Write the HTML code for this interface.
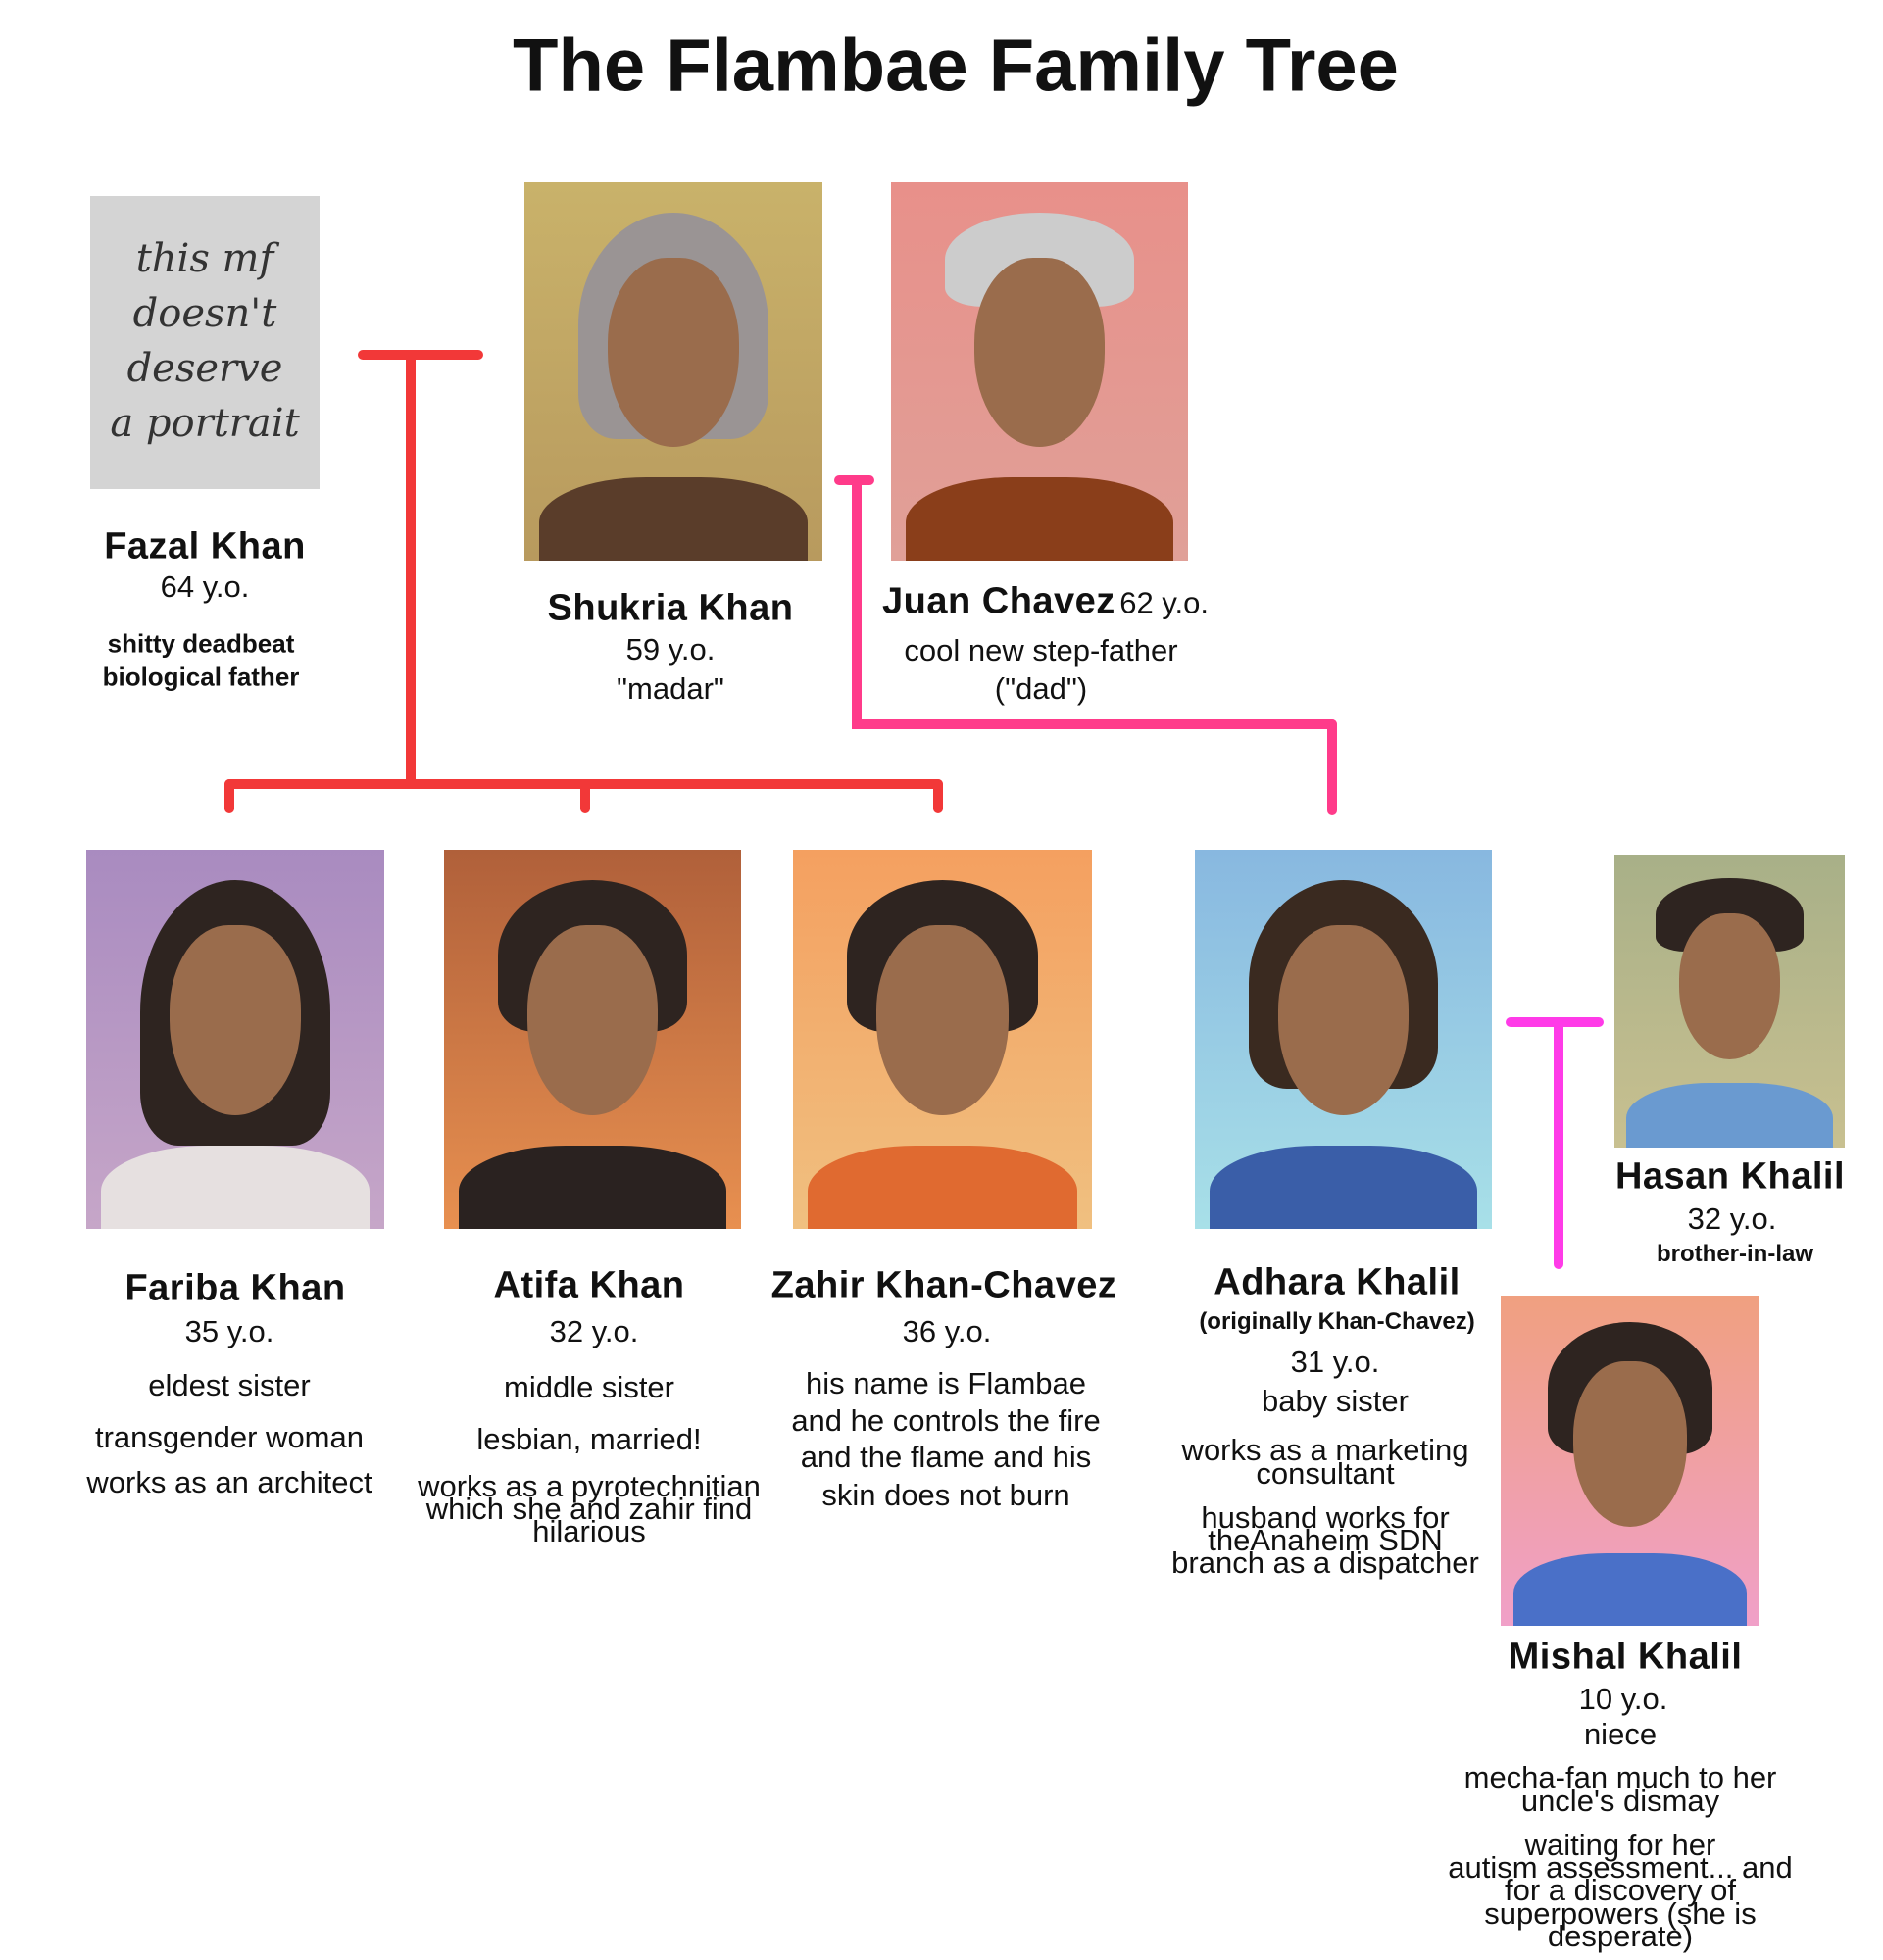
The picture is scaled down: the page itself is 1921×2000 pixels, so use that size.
<!DOCTYPE html>
<html><head><meta charset="utf-8">
<style>
html,body{margin:0;padding:0;background:#fff;}
body{width:1921px;height:2000px;position:relative;overflow:hidden;font-family:"Liberation Sans","DejaVu Sans",sans-serif;color:#111;}
.t{position:absolute;transform:translate(-50%,-50%);white-space:nowrap;text-align:center;}
.n{font-size:38px;font-weight:bold;letter-spacing:0.5px;}
.b{font-size:31px;}
.s{font-size:24px;font-weight:bold;}
.p{position:absolute;overflow:hidden;}
.face{position:absolute;left:28%;top:20%;width:44%;height:50%;border-radius:45% 45% 50% 50%;background:#9a6c4c;}
.hair{position:absolute;left:18%;top:8%;width:64%;height:40%;border-radius:50% 50% 20% 20%;background:#2e2420;}
.body{position:absolute;left:5%;top:78%;width:90%;height:30%;border-radius:40% 40% 0 0;}
.ln{position:absolute;}
</style></head><body>
<div class="t" style="left:975px;top:67px;font-size:76px;font-weight:bold;">The Flambae Family Tree</div>

<div class="p" style="left:92px;top:200px;width:234px;height:299px;background:#d4d4d4;">
<div style="position:absolute;left:0;top:36px;width:100%;text-align:center;font-family:'DejaVu Serif',serif;font-style:italic;font-size:40px;line-height:56px;color:#333;">this mf<br>doesn't<br>deserve<br>a portrait</div></div>

<div class="p" style="left:535px;top:186px;width:304px;height:386px;background:linear-gradient(#c9b26a,#b89a5e);"><div class="hair" style="background:#9a9494;height:60%"></div><div class="face"></div><div class="body" style="background:#5a3d2a"></div></div>
<div class="p" style="left:909px;top:186px;width:303px;height:386px;background:linear-gradient(#e8908a,#e0a098);"><div class="hair" style="background:#ccc;height:25%"></div><div class="face"></div><div class="body" style="background:#8a3e1a"></div></div>
<div class="p" style="left:88px;top:867px;width:304px;height:387px;background:linear-gradient(#a98bc0,#c6a6c8);"><div class="hair" style="height:70%"></div><div class="face"></div><div class="body" style="background:#e6e0e0"></div></div>
<div class="p" style="left:453px;top:867px;width:303px;height:387px;background:linear-gradient(#b0603a,#e89050);"><div class="hair"></div><div class="face"></div><div class="body" style="background:#2a2220"></div></div>
<div class="p" style="left:809px;top:867px;width:305px;height:387px;background:linear-gradient(#f4a060,#f0c080);"><div class="hair"></div><div class="face"></div><div class="body" style="background:#e06a30"></div></div>
<div class="p" style="left:1219px;top:867px;width:303px;height:387px;background:linear-gradient(#88b8e0,#a8e0e8);"><div class="hair" style="height:55%;background:#3a2a20"></div><div class="face"></div><div class="body" style="background:#3a5ea8"></div></div>
<div class="p" style="left:1647px;top:872px;width:235px;height:299px;background:linear-gradient(#a8b088,#c8c090);"><div class="hair" style="height:25%"></div><div class="face"></div><div class="body" style="background:#6a9ad0"></div></div>
<div class="p" style="left:1531px;top:1322px;width:264px;height:337px;background:linear-gradient(#f0a080,#f0a0c8);"><div class="hair"></div><div class="face"></div><div class="body" style="background:#4a70c8"></div></div>

<div class="ln" style="left:365px;top:357px;width:128px;height:10px;background:#f23838;border-radius:5px"></div>
<div class="ln" style="left:414px;top:357px;width:10px;height:448px;background:#f23838"></div>
<div class="ln" style="left:229px;top:795px;width:733px;height:10px;background:#f23838;border-radius:5px"></div>
<div class="ln" style="left:229px;top:795px;width:10px;height:35px;background:#f23838;border-radius:5px"></div>
<div class="ln" style="left:592px;top:795px;width:10px;height:35px;background:#f23838;border-radius:5px"></div>
<div class="ln" style="left:952px;top:795px;width:10px;height:35px;background:#f23838;border-radius:5px"></div>
<div class="ln" style="left:851px;top:485px;width:41px;height:10px;background:#ff3b8a;border-radius:5px"></div>
<div class="ln" style="left:869px;top:485px;width:10px;height:259px;background:#ff3b8a"></div>
<div class="ln" style="left:869px;top:734px;width:495px;height:10px;background:#ff3b8a;border-radius:5px"></div>
<div class="ln" style="left:1354px;top:734px;width:10px;height:98px;background:#ff3b8a;border-radius:5px"></div>
<div class="ln" style="left:1536px;top:1038px;width:100px;height:10px;background:#ff3be8;border-radius:5px"></div>
<div class="ln" style="left:1585px;top:1038px;width:10px;height:257px;background:#ff3be8;border-radius:5px"></div>

<div class="t n" style="left:209px;top:558px">Fazal Khan</div>
<div class="t b" style="left:209px;top:599px">64 y.o.</div>
<div class="t s" style="left:205px;top:657px;font-size:26px">shitty deadbeat</div>
<div class="t s" style="left:205px;top:691px;font-size:26px">biological father</div>

<div class="t n" style="left:684px;top:621px">Shukria Khan</div>
<div class="t b" style="left:684px;top:663px">59 y.o.</div>
<div class="t b" style="left:684px;top:703px">"madar"</div>

<div class="t" style="left:900px;top:614px;transform:translateY(-50%)"><span class="n">Juan Chavez</span> <span class="b">62 y.o.</span></div>
<div class="t b" style="left:1062px;top:664px">cool new step-father</div>
<div class="t b" style="left:1062px;top:703px">("dad")</div>

<div class="t n" style="left:240px;top:1315px">Fariba Khan</div>
<div class="t b" style="left:234px;top:1359px">35 y.o.</div>
<div class="t b" style="left:234px;top:1414px">eldest sister</div>
<div class="t b" style="left:234px;top:1467px">transgender woman</div>
<div class="t b" style="left:234px;top:1513px">works as an architect</div>

<div class="t n" style="left:601px;top:1312px">Atifa Khan</div>
<div class="t b" style="left:606px;top:1359px">32 y.o.</div>
<div class="t b" style="left:601px;top:1416px">middle sister</div>
<div class="t b" style="left:601px;top:1469px">lesbian, married!</div>
<div class="t b" style="left:601px;top:1517px">works as a pyrotechnitian</div>
<div class="t b" style="left:601px;top:1540px">which she and zahir find</div>
<div class="t b" style="left:601px;top:1563px">hilarious</div>

<div class="t n" style="left:963px;top:1312px">Zahir Khan-Chavez</div>
<div class="t b" style="left:966px;top:1359px">36 y.o.</div>
<div class="t b" style="left:965px;top:1412px">his name is Flambae</div>
<div class="t b" style="left:965px;top:1450px">and he controls the fire</div>
<div class="t b" style="left:965px;top:1487px">and the flame and his</div>
<div class="t b" style="left:965px;top:1526px">skin does not burn</div>

<div class="t n" style="left:1364px;top:1309px">Adhara Khalil</div>
<div class="t s" style="left:1364px;top:1349px">(originally Khan-Chavez)</div>
<div class="t b" style="left:1362px;top:1390px">31 y.o.</div>
<div class="t b" style="left:1362px;top:1430px">baby sister</div>
<div class="t b" style="left:1352px;top:1480px">works as a marketing</div>
<div class="t b" style="left:1352px;top:1504px">consultant</div>
<div class="t b" style="left:1352px;top:1549px">husband works for</div>
<div class="t b" style="left:1352px;top:1572px">theAnaheim SDN</div>
<div class="t b" style="left:1352px;top:1595px">branch as a dispatcher</div>

<div class="t n" style="left:1765px;top:1201px">Hasan Khalil</div>
<div class="t b" style="left:1767px;top:1244px">32 y.o.</div>
<div class="t s" style="left:1770px;top:1280px">brother-in-law</div>

<div class="t n" style="left:1658px;top:1691px">Mishal Khalil</div>
<div class="t b" style="left:1656px;top:1734px">10 y.o.</div>
<div class="t b" style="left:1653px;top:1770px">niece</div>
<div class="t b" style="left:1653px;top:1814px">mecha-fan much to her</div>
<div class="t b" style="left:1653px;top:1838px">uncle's dismay</div>
<div class="t b" style="left:1653px;top:1883px">waiting for her</div>
<div class="t b" style="left:1653px;top:1906px">autism assessment... and</div>
<div class="t b" style="left:1653px;top:1929px">for a discovery of</div>
<div class="t b" style="left:1653px;top:1953px">superpowers (she is</div>
<div class="t b" style="left:1653px;top:1976px">desperate)</div>
</body></html>
